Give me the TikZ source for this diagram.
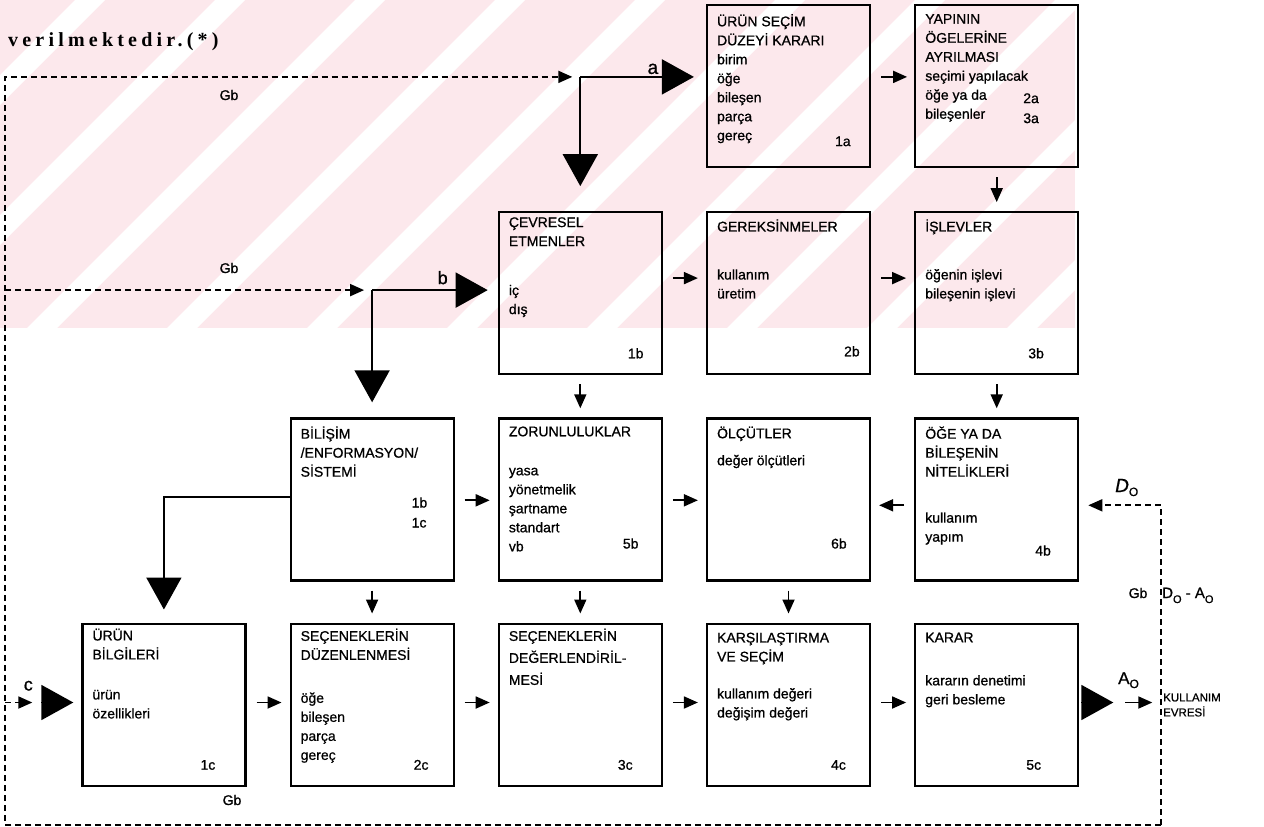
\documentclass[tikz,border=0pt]{standalone}
\usepackage{fontspec}
\setmainfont[FakeBold=0.8]{Liberation Sans}
\newfontfamily\ustyazi[LetterSpace=21]{Liberation Serif}
\usetikzlibrary{positioning,calc,arrows.meta}
\definecolor{pembe}{RGB}{252,232,236}

\begin{document}
\begin{tikzpicture}[x=1pt,y=-1pt]
\tikzstyle{kutu}=[draw, line width=2.2pt, minimum width=163pt, minimum height=162pt, inner sep=0pt]
\tikzstyle{yazi}=[align=left, inner sep=0pt, font=\fontsize{14}{19}\selectfont]
\tikzstyle{no}=[anchor=base west, align=left, inner sep=0pt, font=\fontsize{14}{20}\selectfont]
\tikzstyle{ok}=[line width=1.8pt, -{Triangle[length=14pt,width=12pt]}]
\tikzstyle{kesik}=[line width=1.8pt, dash pattern=on 6pt off 4pt]
\tikzstyle{iri}=[line width=1.8pt, -{Triangle[length=32pt,width=35pt]}]
\tikzstyle{etiket}=[inner sep=0pt, anchor=base, font=\fontsize{14}{16}\selectfont]

\useasboundingbox (0,0) rectangle (1264,827);

% filigran
\begin{scope}
\clip (0,0) rectangle (1075,328);
\fill[pembe] (0,0) rectangle (1075,328);
\foreach \c in {75,215,355,495,635,775,915,1055,1195,1335}
  \fill[white] (\c,0) -- (\c+30,0) -- (\c+30-328,328) -- (\c-328,328) -- cycle;
\end{scope}

\node[anchor=base west, inner sep=0pt, font=\fontsize{20}{22}\ustyazi\bfseries] (baslik) at (8,46) {verilmektedir.(*)};

% kutular
\node[kutu] (k1a) at (788.5,86) {};
\node[kutu, right=43pt of k1a] (k2a) {};
\node[kutu, below=43pt of k1a] (k2b) {};
\node[kutu, left=43pt of k2b] (k1b) {};
\node[kutu, right=43pt of k2b] (k3b) {};
\node[kutu, below=42pt of k1b] (k5b) {};
\node[kutu, left=43pt of k5b] (kbs) {};
\node[kutu, right=43pt of k5b] (k6b) {};
\node[kutu, right=43pt of k6b] (k4b) {};
\node[kutu, below=41pt of kbs] (k2c) {};
\node[kutu, left=43pt of k2c] (k1c) {};
\node[kutu, right=43pt of k2c] (k3c) {};
\node[kutu, right=43pt of k3c] (k4c) {};
\node[kutu, right=43pt of k4c] (k5c) {};

% yazilar
\node[yazi, below right=10pt and 11pt of k1a.north west] (t1a) {ÜRÜN SEÇİM\\DÜZEYİ KARARI\\birim\\öğe\\bileşen\\parça\\gereç};
\node[yazi, below right=10pt and 11pt of k2a.north west] (t2a) {YAPININ\\ÖGELERİNE\\AYRILMASI\\seçimi yapılacak\\öğe ya da\\bileşenler};
\node[yazi, below right=6pt and 11pt of k1b.north west] (t1b) {ÇEVRESEL\\ETMENLER\\[30pt]iç\\dış};
\node[yazi, below right=8pt and 11pt of k2b.north west] (t2b) {GEREKSİNMELER\\[29pt]kullanım\\üretim};
\node[yazi, below right=8pt and 11pt of k3b.north west] (t3b) {İŞLEVLER\\[29pt]öğenin işlevi\\bileşenin işlevi};
\node[yazi, below right=9pt and 11pt of kbs.north west] (tbs) {BİLİŞİM\\/ENFORMASYON/\\SİSTEMİ};
\node[yazi, below right=9pt and 11pt of k5b.north west] (t5b) {ZORUNLULUKLAR\\[20pt]yasa\\yönetmelik\\şartname\\standart\\vb};
\node[yazi, below right=9pt and 11pt of k6b.north west] (t6b) {ÖLÇÜTLER\\[8pt]değer ölçütleri};
\node[yazi, below right=9pt and 11pt of k4b.north west] (t4b) {ÖĞE YA DA\\BİLEŞENİN\\NİTELİKLERİ\\[27pt]kullanım\\yapım};
\node[yazi, below right=6pt and 11pt of k1c.north west] (t1c) {ÜRÜN\\BİLGİLERİ\\[21pt]ürün\\özellikleri};
\node[yazi, below right=6pt and 11pt of k2c.north west] (t2c) {SEÇENEKLERİN\\DÜZENLENMESİ\\[24pt]öğe\\bileşen\\parça\\gereç};
\node[yazi, below right=6pt and 11pt of k3c.north west] (t3c) {SEÇENEKLERİN\\[3pt]DEĞERLENDİRİL-\\[3pt]MESİ};
\node[yazi, below right=10pt and 11pt of k4c.north west] (t4c) {KARŞILAŞTIRMA\\VE SEÇİM\\[18pt]kullanım değeri\\değişim değeri};
\node[yazi, below right=10pt and 11pt of k5c.north west] (t5c) {KARAR\\[24pt]kararın denetimi\\geri besleme};

% numaralar
\node[no] (n1a) at ($(k1a.south west)+(129,-22)$) {1a};
\node[no] (n2a) at ($(k2a.south west)+(109,-45)$) {2a\\3a};
\node[no] (n1b) at ($(k1b.south west)+(130,-17)$) {1b};
\node[no] (n2b) at ($(k2b.south west)+(138,-19)$) {2b};
\node[no] (n3b) at ($(k3b.south west)+(114,-17)$) {3b};
\node[no] (nbs) at ($(kbs.south west)+(122,-54)$) {1b\\1c};
\node[no] (n5b) at ($(k5b.south west)+(125,-33)$) {5b};
\node[no] (n6b) at ($(k6b.south west)+(125,-33)$) {6b};
\node[no] (n4b) at ($(k4b.south west)+(121,-26)$) {4b};
\node[no] (n1c) at ($(k1c.south west)+(119,-17)$) {1c};
\node[no] (n2c) at ($(k2c.south west)+(124,-17)$) {2c};
\node[no] (n3c) at ($(k3c.south west)+(120,-17)$) {3c};
\node[no] (n4c) at ($(k4c.south west)+(125,-17)$) {4c};
\node[no] (n5c) at ($(k5c.south west)+(112,-17)$) {5c};

% kucuk oklar
\draw[ok] ($(k1a.north east)+(10,73)$) -- ($(k2a.north west)+(-7,73)$);
\draw[ok] ($(k1b.north east)+(10,67)$) -- ($(k2b.north west)+(-8,67)$);
\draw[ok] ($(k2b.north east)+(10,67)$) -- ($(k3b.north west)+(-8,67)$);
\draw[ok] ($(kbs.north east)+(10,83)$) -- ($(k5b.north west)+(-8,83)$);
\draw[ok] ($(k5b.north east)+(10,83)$) -- ($(k6b.north west)+(-8,83)$);
\draw[ok] ($(k4b.north west)+(-10,88)$) -- ($(k6b.north east)+(8,88)$);
\draw[ok] ($(k1c.north east)+(10,80)$) -- ($(k2c.north west)+(-8,80)$);
\draw[ok] ($(k2c.north east)+(10,80)$) -- ($(k3c.north west)+(-8,80)$);
\draw[ok] ($(k3c.north east)+(10,80)$) -- ($(k4c.north west)+(-8,80)$);
\draw[ok] ($(k4c.north east)+(10,80)$) -- ($(k5c.north west)+(-8,80)$);
\draw[ok] ($(k2a.south)+(0,9)$) -- ($(k3b.north)+(0,-9)$);
\draw[ok] ($(k1b.south)+(0,9)$) -- ($(k5b.north)+(0,-9)$);
\draw[ok] ($(k3b.south)+(0,9)$) -- ($(k4b.north)+(0,-9)$);
\draw[ok] ($(kbs.south)+(0,9)$) -- ($(k2c.north)+(0,-9)$);
\draw[ok] ($(k5b.south)+(0,9)$) -- ($(k3c.north)+(0,-9)$);
\draw[ok] ($(k6b.south)+(0,9)$) -- ($(k4c.north)+(0,-9)$);

% buyuk oklar
\coordinate (ka) at ($(k1b.north |- k1a.north)+(0,73)$);
\draw[iri] (ka) -- ($(k1a.north west)+(-12,73)$);
\draw[iri] (ka) -- ($(k1b.north)+(0,-25)$);
\node[etiket, font=\fontsize{19}{20}\selectfont] (la) at ($(k1a.north west)+(-53,70)$) {a};
\coordinate (kb) at ($(kbs.north |- k1b.north)+(0,79)$);
\draw[iri] (kb) -- ($(k1b.north west)+(-10,79)$);
\draw[iri] (kb) -- ($(kbs.north)+(0,-15)$);
\node[etiket, font=\fontsize{18}{20}\selectfont] (lb) at ($(k1b.north west)+(-55,73)$) {b};
\coordinate (kc) at ($(k1c.north |- kbs.north)+(0,80)$);
\draw[iri] ($(kbs.north west)+(0,80)$) -- (kc) -- ($(k1c.north)+(0,-13)$);
\coordinate (cuc) at ($(k1c.north west)+(-8,80)$);
\draw[iri] ($(cuc)+(-32,0)$) -- (cuc);
\node[etiket, font=\fontsize{18}{20}\selectfont] (lc) at ($(cuc)+(-45,-12)$) {c};
\coordinate (auc) at ($(k5c.north east)+(34,80)$);
\draw[iri] ($(auc)+(-32,0)$) -- (auc);

% geri besleme
\coordinate (sagalt) at ($(k5c.south east)+(82,38)$);
\coordinate (solalt) at ($(k1c.south west)+(-76,38)$);
\coordinate (solust) at (solalt |- ka);
\coordinate (d0) at ($(k4b.north east)+(9,88)$);
\coordinate (sagust) at (sagalt |- d0);
\draw[kesik, ok] (sagalt) -- (solalt) -- (solust) -- ($(ka)+(-8,0)$);
\draw[kesik, ok] (solust |- kb) -- ($(kb)+(-8,0)$);
\draw[kesik, ok] (solust |- cuc) -- ($(cuc)+(-41,0)$);
\draw[kesik, ok] (sagalt) -- (sagust) -- (d0);
\draw[ok] ($(auc)+(12,0)$) -- ($(sagalt |- auc)+(-9,0)$);

% etiketler
\node[etiket] (gb1) at (229,100) {Gb};
\node[etiket] (gb2) at (229,273) {Gb};
\node[etiket] (gb3) at (232,805) {Gb};
\node[etiket] (gb4) at (1138,598) {Gb};
\node[etiket, anchor=base west, font=\fontsize{15}{16}\selectfont] (dfark) at (1162,598) {D\raisebox{-5pt}{\fontsize{11}{11}\selectfont O} - A\raisebox{-5pt}{\fontsize{11}{11}\selectfont O}};
\node[etiket, anchor=base west, font=\fontsize{19}{20}\selectfont] (d0e) at (1115,492) {\itshape D\raisebox{-4pt}{\fontsize{12}{12}\selectfont\upshape O}};
\node[etiket, anchor=base west, font=\fontsize{17}{18}\selectfont] (a0e) at (1118,684) {A\raisebox{-4pt}{\fontsize{12}{12}\selectfont O}};
\node[anchor=west, align=left, inner sep=0pt, font=\fontsize{11.5}{15}\selectfont] (kev) at (1163,705) {KULLANIM\\EVRESİ};
\end{tikzpicture}
\end{document}
